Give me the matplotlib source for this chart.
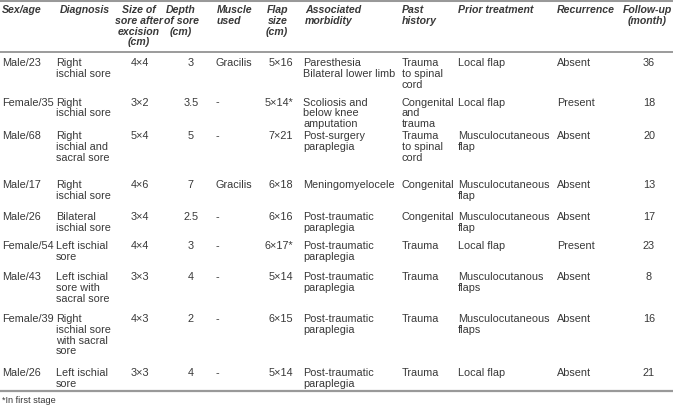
import matplotlib
matplotlib.use("Agg")
import matplotlib.pyplot as plt

# table content
headers = ["Sex/age", "Diagnosis", "Size of\nsore after\nexcision\n(cm)", "Depth\nof sore\n(cm)",
           "Muscle\nused", "Flap\nsize\n(cm)", "Associated\nmorbidity", "Past\nhistory",
           "Prior treatment", "Recurrence", "Follow-up\n(month)"]

sex_age = ["Male/23", "Female/35", "Male/68", "Male/17", "Male/26", "Female/54", "Male/43",
           "Female/39", "Male/26"]
diagnosis = ["Right\nischial sore", "Right\nischial sore", "Right\nischial and\nsacral sore",
             "Right\nischial sore", "Bilateral\nischial sore", "Left ischial\nsore",
             "Left ischial\nsore with\nsacral sore", "Right\nischial sore\nwith sacral\nsore",
             "Left ischial\nsore"]
sore_size = ["4×4", "3×2", "5×4", "4×6", "3×4", "4×4", "3×3", "4×3", "3×3"]
depth = ["3", "3.5", "5", "7", "2.5", "3", "4", "2", "4"]
muscle = ["Gracilis", "-", "-", "Gracilis", "-", "-", "-", "-", "-"]
flap_size = ["5×16", "5×14*", "7×21", "6×18", "6×16", "6×17*", "5×14", "6×15", "5×14"]
morbidity = ["Paresthesia\nBilateral lower limb", "Scoliosis and\nbelow knee\namputation",
             "Post-surgery\nparaplegia", "Meningomyelocele", "Post-traumatic\nparaplegia",
             "Post-traumatic\nparaplegia", "Post-traumatic\nparaplegia",
             "Post-traumatic\nparaplegia", "Post-traumatic\nparaplegia"]
past_history = ["Trauma\nto spinal\ncord", "Congenital\nand\ntrauma", "Trauma\nto spinal\ncord",
                "Congenital", "Congenital", "Trauma", "Trauma", "Trauma", "Trauma"]
prior_treatment = ["Local flap", "Local flap", "Musculocutaneous\nflap", "Musculocutaneous\nflap",
                   "Musculocutaneous\nflap", "Local flap", "Musculocutanous\nflaps",
                   "Musculocutaneous\nflaps", "Local flap"]
recurrence = ["Absent", "Present", "Absent", "Absent", "Absent", "Present", "Absent", "Absent",
              "Absent"]
follow_up = [36, 18, 20, 13, 17, 23, 8, 16, 21]
footnote = "*In first stage"

columns = [sex_age, diagnosis, sore_size, depth, muscle, flap_size, morbidity, past_history,
           prior_treatment, recurrence, [str(v) for v in follow_up]]

# layout (pixels)
head_x = [(2, "left"), (60, "left"), (139, "center"), (181, "center"), (217, "left"),
          (288, "right"), (305, "left"), (402, "left"), (458, "left"), (557, "left"),
          (647, "center")]
body_x = [(2, "left"), (56, "left"), (140, "center"), (191, "center"), (216, "left"),
          (293, "right"), (303, "left"), (402, "left"), (458, "left"), (557, "left"),
          (649, "center")]
row_base = [66.5, 105.5, 139, 188, 220, 249.5, 280.5, 322, 376]
lh = 10.8
fs = 7.8
col = "#383838"

fig = plt.figure(figsize=(6.73, 4.06), dpi=100)
ax = fig.add_axes([0, 0, 1, 1])
ax.set_xlim(0, 673)
ax.set_ylim(406, 0)
ax.axis("off")

def cell(x, y, txt, ha, size=fs, **kw):
    for i, line in enumerate(txt.split("\n")):
        ax.text(x, y + i * lh, line, ha=ha, va="baseline", fontsize=size,
                family="Liberation Sans", color=col, **kw)

for (x, ha), h in zip(head_x, headers):
    cell(x, 13, h, ha, size=7.6, fontweight="bold", fontstyle="italic")

for (x, ha), values in zip(body_x, columns):
    for y, v in zip(row_base, values):
        cell(x, y, v, ha)

ax.axhline(1.2, color="#999999", lw=2.2)
ax.axhline(53, color="#808080", lw=1.1)
ax.axhline(391.5, color="#999999", lw=1.6)
ax.text(2, 403, footnote, ha="left", va="baseline", fontsize=6.6,
        family="Liberation Sans", color=col)

fig.savefig("out.png", dpi=100)
